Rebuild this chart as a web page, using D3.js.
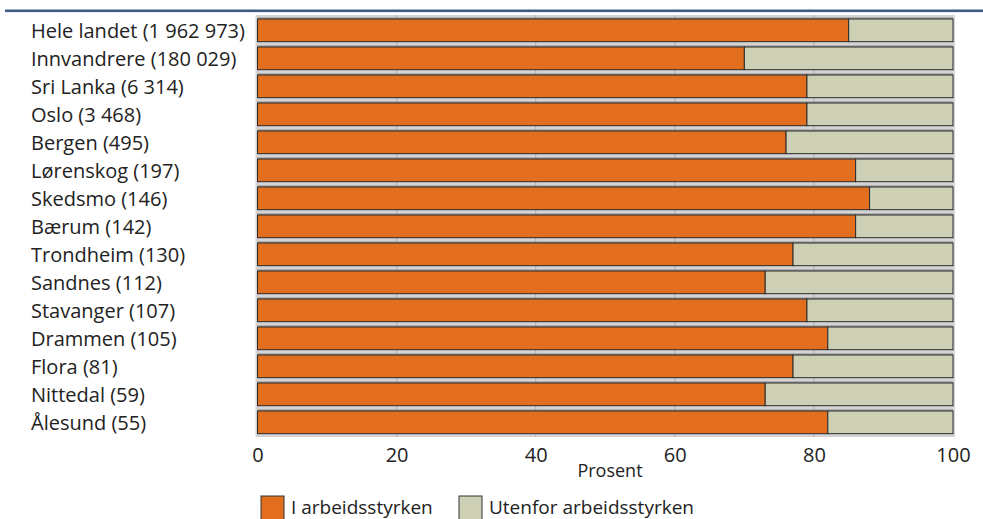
<!DOCTYPE html>
<html>
<head>
<meta charset="utf-8">
<script src="https://cdn.jsdelivr.net/npm/d3@7"></script>
<style>
  html, body { margin: 0; padding: 0; background: #fff; }
  svg { display: block; font-family: "Open Sans", sans-serif; }
</style>
</head>
<body>
<svg id="chart" width="983" height="519"></svg>
<script>
const categories = [
  "Hele landet (1 962 973)", "Innvandrere (180 029)", "Sri Lanka (6 314)", "Oslo (3 468)",
  "Bergen (495)", "Lørenskog (197)", "Skedsmo (146)", "Bærum (142)", "Trondheim (130)",
  "Sandnes (112)", "Stavanger (107)", "Drammen (105)", "Flora (81)", "Nittedal (59)", "Ålesund (55)"
];
const iArbeid = [85, 70, 79, 79, 76, 86, 88, 86, 77, 73, 79, 82, 77, 73, 82];
const utenfor = iArbeid.map(v => 100 - v);
const seriesNames = ["I arbeidsstyrken", "Utenfor arbeidsstyrken"];
const seriesColors = ["#E36F1E", "#CDD0B5"];
const xTicks = [0, 20, 40, 60, 80, 100];
const xTitle = "Prosent";

const FONT = "'Open Sans', sans-serif";
const svg = d3.select("#chart");
const x = d3.scaleLinear().domain([0, 100]).range([257.5, 953]);
const y = d3.scaleBand().domain(categories).range([16.34, 436.34]).paddingInner(0.19).paddingOuter(0.095);

// top rule
svg.append("rect").attr("x", 5).attr("y", 9.5).attr("width", 978).attr("height", 2.6).attr("fill", "#3F5B84");

// plot background
svg.append("rect").attr("x", 255.5).attr("y", 15).attr("width", 955 - 255.5).attr("height", 437 - 15).attr("fill", "#D4D4D4");

// gridlines
svg.append("g").selectAll("line").data(xTicks.filter(t => t > 0 && t < 100)).join("line")
  .attr("x1", d => x(d)).attr("x2", d => x(d)).attr("y1", 15).attr("y2", 437)
  .attr("stroke", "#B5B5B5").attr("stroke-width", 1.2);

const rows = categories.map((c, i) => ({ c, a: iArbeid[i], b: utenfor[i] }));

// shadow lines above each bar
svg.append("g").selectAll("line").data(rows).join("line")
  .attr("x1", x(0)).attr("x2", x(100))
  .attr("y1", d => y(d.c) - 0.8).attr("y2", d => y(d.c) - 0.8)
  .attr("stroke", "#8a8a8a").attr("stroke-width", 1.2);

const g = svg.append("g");
g.selectAll("rect.a").data(rows).join("rect").attr("class", "a")
  .attr("x", x(0)).attr("y", d => y(d.c)).attr("width", d => x(d.a) - x(0)).attr("height", y.bandwidth())
  .attr("fill", seriesColors[0]).attr("stroke", "#2a2a2a").attr("stroke-width", 1);
g.selectAll("rect.b").data(rows).join("rect").attr("class", "b")
  .attr("x", d => x(d.a)).attr("y", d => y(d.c)).attr("width", d => x(100) - x(d.a)).attr("height", y.bandwidth())
  .attr("fill", seriesColors[1]).attr("stroke", "#2a2a2a").attr("stroke-width", 1);

// category labels
svg.append("g").selectAll("text").data(categories).join("text")
  .attr("x", 31).attr("y", d => y(d) + y.bandwidth() / 2 + 7.5)
  .attr("font-size", 20).attr("fill", "#222").text(d => d);

// x axis
const ax = svg.append("g").attr("transform", "translate(0,441)")
  .call(d3.axisBottom(x).tickValues(xTicks).tickSize(0).tickPadding(0).tickFormat(d3.format("d")));
ax.select(".domain").remove();
ax.selectAll("text").attr("font-size", 20).attr("fill", "#222").attr("dy", 0).attr("y", 21)
  .attr("font-family", FONT);

svg.append("text").attr("x", 610).attr("y", 477).attr("text-anchor", "middle")
  .attr("font-size", 18).attr("fill", "#222").text(xTitle);

// legend
const legX = [261, 459];
const lg = svg.append("g");
seriesNames.forEach((n, i) => {
  lg.append("rect").attr("x", legX[i]).attr("y", 496).attr("width", 23).attr("height", 25)
    .attr("fill", seriesColors[i]).attr("stroke", "#333").attr("stroke-width", 1);
  lg.append("text").attr("x", legX[i] + 30).attr("y", 514).attr("font-size", 19).attr("fill", "#222").text(n);
});
</script>
</body>
</html>
